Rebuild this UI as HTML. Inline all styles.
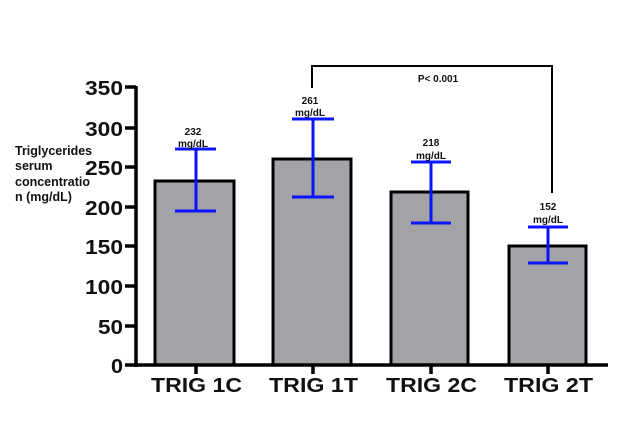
<!DOCTYPE html>
<html><head><style>body{margin:0;background:#fff}svg{display:block}</style></head><body>
<svg width="628" height="423" xmlns="http://www.w3.org/2000/svg" font-family="Liberation Sans, Arial, sans-serif" font-weight="bold">
<g fill="#a3a2a6" stroke="#000" stroke-width="3">
<rect x="155" y="181" width="79" height="184"/>
<rect x="273" y="159" width="78" height="206"/>
<rect x="391" y="192" width="77" height="173"/>
<rect x="509" y="246" width="77" height="119"/>
</g>
<g stroke="#000" stroke-width="3.5">
<line x1="136" y1="86" x2="136" y2="367"/>
<line x1="134" y1="365" x2="608" y2="365"/>
<line x1="125" y1="87" x2="136" y2="87"/><line x1="125" y1="128" x2="136" y2="128"/>
<line x1="125" y1="167" x2="136" y2="167"/><line x1="125" y1="207" x2="136" y2="207"/>
<line x1="125" y1="246" x2="136" y2="246"/><line x1="125" y1="286" x2="136" y2="286"/>
<line x1="125" y1="326" x2="136" y2="326"/><line x1="125" y1="365" x2="136" y2="365"/>
<line x1="196" y1="365" x2="196" y2="374"/><line x1="313" y1="365" x2="313" y2="374"/>
<line x1="431" y1="365" x2="431" y2="374"/><line x1="548" y1="365" x2="548" y2="374"/>
</g>
<polyline points="312,88 312,66 552,66 552,193" fill="none" stroke="#000" stroke-width="2"/>
<g stroke="#0a14ff" stroke-width="3">
<line x1="196" y1="149" x2="196" y2="211"/><line x1="175" y1="149" x2="216" y2="149"/><line x1="175" y1="211" x2="216" y2="211"/>
<line x1="313" y1="119" x2="313" y2="197"/><line x1="292" y1="119" x2="334" y2="119"/><line x1="292" y1="197" x2="334" y2="197"/>
<line x1="431" y1="162" x2="431" y2="223"/><line x1="411" y1="162" x2="451" y2="162"/><line x1="411" y1="223" x2="451" y2="223"/>
<line x1="548" y1="227" x2="548" y2="263"/><line x1="528" y1="227" x2="568" y2="227"/><line x1="528" y1="263" x2="568" y2="263"/>
</g>
<g font-size="20" fill="#111">
<text x="85" y="95" textLength="38" lengthAdjust="spacingAndGlyphs">350</text>
<text x="85" y="136" textLength="38" lengthAdjust="spacingAndGlyphs">300</text>
<text x="85" y="175" textLength="38" lengthAdjust="spacingAndGlyphs">250</text>
<text x="85" y="215" textLength="38" lengthAdjust="spacingAndGlyphs">200</text>
<text x="85" y="254" textLength="38" lengthAdjust="spacingAndGlyphs">150</text>
<text x="85" y="294" textLength="38" lengthAdjust="spacingAndGlyphs">100</text>
<text x="98" y="334" textLength="25" lengthAdjust="spacingAndGlyphs">50</text>
<text x="111" y="373" textLength="12" lengthAdjust="spacingAndGlyphs">0</text>
</g>
<g font-size="20" fill="#111">
<text x="151" y="392" textLength="91" lengthAdjust="spacingAndGlyphs">TRIG 1C</text>
<text x="269" y="392" textLength="89" lengthAdjust="spacingAndGlyphs">TRIG 1T</text>
<text x="386" y="392" textLength="91" lengthAdjust="spacingAndGlyphs">TRIG 2C</text>
<text x="504" y="392" textLength="89" lengthAdjust="spacingAndGlyphs">TRIG 2T</text>
</g>
<g font-size="10" text-anchor="middle" fill="#111">
<text x="193" y="135">232</text><text x="193" y="147">mg/dL</text>
<text x="310" y="104">261</text><text x="310" y="116">mg/dL</text>
<text x="431" y="146">218</text><text x="431" y="159">mg/dL</text>
<text x="548" y="210">152</text><text x="548" y="223">mg/dL</text>
<text x="438" y="82">P&lt;  0.001</text>
</g>
<g font-size="12.5" fill="#111">
<text x="15" y="155">Triglycerides</text><text x="15" y="170">serum</text>
<text x="15" y="186">concentratio</text><text x="15" y="201">n (mg/dL)</text>
</g>
</svg>
</body></html>
